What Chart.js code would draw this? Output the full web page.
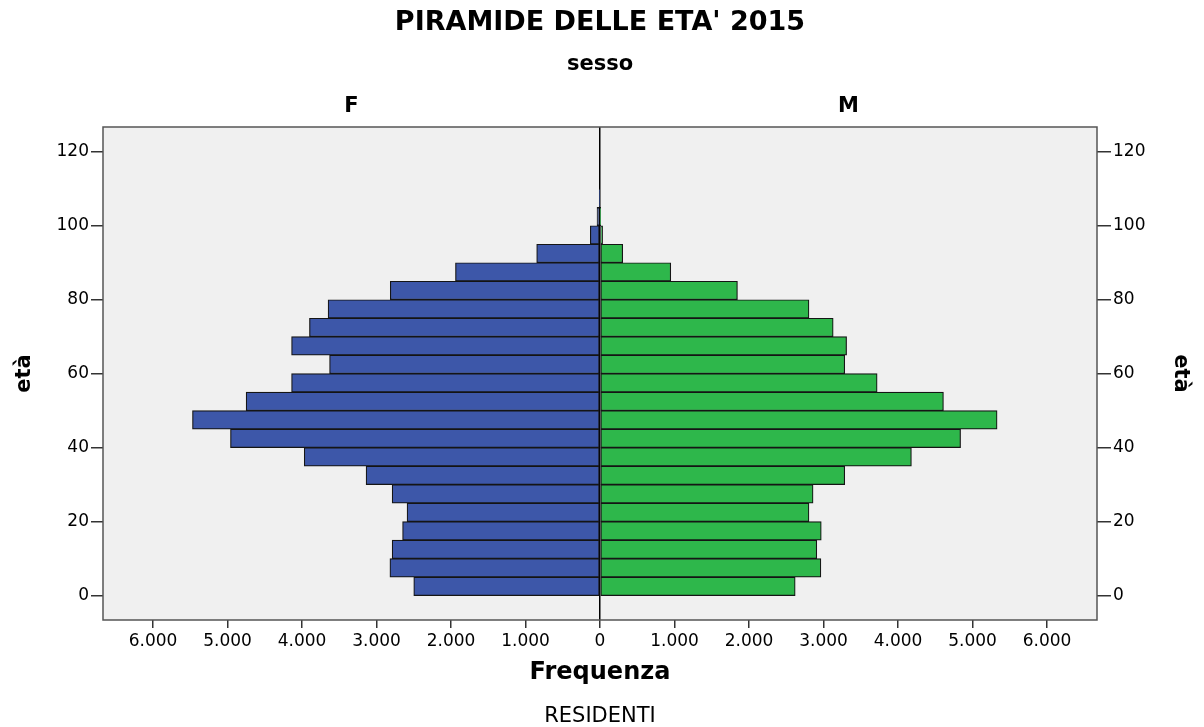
<!DOCTYPE html>
<html>
<head>
<meta charset="utf-8">
<title>Piramide delle età 2015</title>
<script src="https://cdn.jsdelivr.net/npm/chart.js@4/dist/chart.umd.min.js"></script>
<style>
  html, body { margin: 0; padding: 0; background: #fff; }
</style>
</head>
<body>
<canvas id="piramide" width="1204" height="727"></canvas>
<script>
// classi di età (inizio della classe quinquennale)
const classiEta = [0, 5, 10, 15, 20, 25, 30, 35, 40, 45, 50, 55, 60, 65, 70, 75, 80, 85, 90, 95, 100, 105];
// residenti per sesso
const femmine = [2500, 2820, 2790, 2650, 2590, 2790, 3140, 3970, 4960, 5470, 4750, 4140, 3630, 4140, 3900, 3650, 2815, 1940, 850, 130, 40, 5];
const maschi  = [2620, 2965, 2910, 2970, 2805, 2860, 3285, 4180, 4840, 5330, 4610, 3720, 3285, 3310, 3130, 2805, 1845, 950, 305, 35, 5, 0];
// etichette degli assi
const tickFrequenza = [-6000, -5000, -4000, -3000, -2000, -1000, 0, 1000, 2000, 3000, 4000, 5000, 6000];
const tickEta = [0, 20, 40, 60, 80, 100, 120];

Chart.defaults.font.family = "'DejaVu Sans', sans-serif";
Chart.defaults.color = '#000';

const formatta = v => Math.abs(v).toString().replace(/\B(?=(\d{3})+(?!\d))/g, '.');

// sfondo dell'area, cornice e testi esterni
const cornice = {
    id: 'cornice',
    beforeDraw(chart) {
        const { ctx, chartArea: a } = chart;
        ctx.save();
        ctx.fillStyle = '#f0f0f0';
        ctx.fillRect(a.left, a.top, a.right - a.left, a.bottom - a.top);
        ctx.restore();
    },
    afterDraw(chart) {
        const { ctx, chartArea: a } = chart;
        const cx = (a.left + a.right) / 2;
        ctx.save();
        ctx.strokeStyle = '#555';
        ctx.lineWidth = 1.5;
        ctx.strokeRect(a.left, a.top, a.right - a.left, a.bottom - a.top);

        ctx.fillStyle = '#000';
        ctx.textAlign = 'center';
        ctx.textBaseline = 'middle';
        ctx.font = "bold 27px 'DejaVu Sans'";
        ctx.fillText("PIRAMIDE DELLE ETA' 2015", cx, 23);
        ctx.font = "bold 21px 'DejaVu Sans'";
        ctx.fillText('sesso', cx, 65);
        ctx.fillText('F', (a.left + cx) / 2, 107);
        ctx.fillText('M', (cx + a.right) / 2, 107);
        ctx.font = "21px 'DejaVu Sans'";
        ctx.fillText('RESIDENTI', cx, 717);
        ctx.restore();
    }
};

const assiEta = (posizione, larghezza, lunghezzaTick, spazioTitolo) => ({
    type: 'linear',
    position: posizione,
    min: -6.6,
    max: 126.7,
    offset: false,
    afterBuildTicks: s => { s.ticks = tickEta.map(v => ({ value: v })); },
    afterFit: s => { s.width = larghezza; },
    ticks: { font: { size: 17 }, padding: 2 },
    grid: { offset: false, drawOnChartArea: false, tickColor: '#333', tickLength: lunghezzaTick, lineWidth: 1.5 },
    border: { display: false },
    title: {
        display: true,
        text: 'età',
        font: { size: 21, weight: 'bold' },
        padding: { top: spazioTitolo, bottom: 0 }
    }
});

new Chart(document.getElementById('piramide'), {
    type: 'bar',
    data: {
        datasets: [{
            label: 'F',
            data: classiEta.map((e, i) => ({ x: -femmine[i], y: e + 2.5 })),
            backgroundColor: '#3d57a9',
            borderColor: '#151515',
            borderWidth: 1.2,
            borderSkipped: false
        }, {
            label: 'M',
            data: classiEta.map((e, i) => ({ x: maschi[i], y: e + 2.5 })),
            backgroundColor: '#2eb74b',
            borderColor: '#151515',
            borderWidth: 1.2,
            borderSkipped: false
        }]
    },
    options: {
        indexAxis: 'y',
        responsive: false,
        devicePixelRatio: 1,
        animation: false,
        grouped: false,
        barPercentage: 1,
        categoryPercentage: 1,
        layout: { padding: { top: 127, left: 0, right: 0, bottom: 0 } },
        plugins: {
            legend: { display: false },
            tooltip: { enabled: false }
        },
        scales: {
            x: {
                type: 'linear',
                min: -6671,
                max: 6671,
                afterBuildTicks: s => { s.ticks = tickFrequenza.map(v => ({ value: v })); },
                afterFit: s => { s.height = 107; },
                ticks: { callback: v => formatta(v), font: { size: 17 }, padding: 3, maxRotation: 0 },
                grid: {
                    drawOnChartArea: true,
                    color: c => (c.tick && c.tick.value === 0 ? '#000' : 'rgba(0,0,0,0)'),
                    lineWidth: 1.5,
                    tickColor: '#333',
                    tickLength: 8
                },
                border: { display: false },
                title: {
                    display: true,
                    text: 'Frequenza',
                    font: { size: 24, weight: 'bold' },
                    padding: { top: 0, bottom: 40 }
                }
            },
            y: assiEta('left', 103, 12, 12),
            y2: assiEta('right', 107, 14, 11)
        }
    },
    plugins: [cornice]
});
</script>
</body>
</html>
